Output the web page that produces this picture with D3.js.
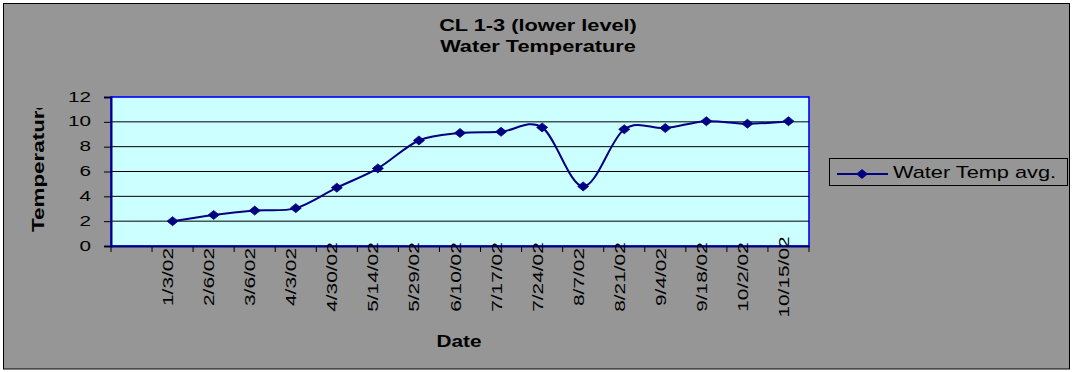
<!DOCTYPE html>
<html><head><meta charset="utf-8">
<script src="https://cdn.jsdelivr.net/npm/d3@7"></script>
<style>
html,body{margin:0;padding:0;background:#fff}
svg{display:block}
text{font-family:"Liberation Sans",Arial,Helvetica,sans-serif}
</style>
</head><body>
<svg id="chart" width="1074" height="372"></svg>
<script>
// ---- data ----
const titleLines = ["CL 1-3 (lower level)", "Water Temperature"];
const yTitle = "Temperature";
const xTitle = "Date";
const seriesName = "Water Temp avg.";
const dates = ["1/3/02","2/6/02","3/6/02","4/3/02","4/30/02","5/14/02","5/29/02","6/10/02",
               "7/17/02","7/24/02","8/7/02","8/21/02","9/4/02","9/18/02","10/2/02","10/15/02"];
const waterTemp = [2.0, 2.5, 2.85, 3.05, 4.7, 6.25, 8.5, 9.1, 9.2, 9.55, 4.8, 9.4, 9.5, 10.05, 9.85, 10.05];
const yTicks = [0, 2, 4, 6, 8, 10, 12];

// ---- layout ----
const svg = d3.select("#chart");
const plot = {left: 111, right: 809, top: 97, bottom: 246};
const navy = "#000080";

// Category axis has a leading empty slot before the first date
const slots = [" "].concat(dates);
const x = d3.scaleBand().domain(slots).range([plot.left, plot.right]).padding(0);
const cx = d => x(d) + x.bandwidth() / 2;
const y = d3.scaleLinear().domain([0, 12]).range([plot.bottom, plot.top]);

// Text helper: wide, stretched Excel-style lettering
function label(parent, px, py, rot, str, o) {
  const g = parent.append("g").attr("transform", `translate(${px},${py}) rotate(${rot})`);
  g.append("text")
    .attr("transform", `scale(${o.sx},1)`)
    .attr("text-anchor", o.anchor || "middle")
    .attr("font-size", o.size)
    .attr("font-weight", o.weight || "normal")
    .attr("fill", "#000")
    .text(str);
  return g;
}

// chart background
svg.append("rect").attr("x", 3.5).attr("y", 3.5).attr("width", 1066).attr("height", 365.5)
  .attr("fill", "#969696").attr("stroke", "#000").attr("stroke-width", 1);

// title
titleLines.forEach((t, i) => label(svg, 538, 31 + i * 21, 0, t, {size: 16, weight: "bold", sx: 1.36}));

// plot area
svg.append("rect").attr("x", plot.left).attr("y", plot.top)
  .attr("width", plot.right - plot.left).attr("height", plot.bottom - plot.top)
  .attr("fill", "#CCFFFF").attr("stroke", "#0000FF").attr("stroke-width", 1.6);

// gridlines
svg.append("g").selectAll("line").data(yTicks.filter(v => v > 0 && v < 12)).join("line")
  .attr("x1", plot.left).attr("x2", plot.right)
  .attr("y1", d => y(d)).attr("y2", d => y(d))
  .attr("stroke", "#000").attr("stroke-width", 1);

// y axis
const yAxis = svg.append("g").attr("transform", `translate(${plot.left},0)`)
  .call(d3.axisLeft(y).tickValues(yTicks).tickSize(7).tickFormat(""));
yAxis.select(".domain").attr("stroke", navy).attr("stroke-width", 2);
yAxis.selectAll(".tick line").attr("stroke", "#000");
yTicks.forEach(v => label(svg, 91, y(v) + 4.5, 0, String(v), {size: 15, anchor: "end", sx: 1.38}));

// x axis: ticks on slot boundaries
const xAxis = svg.append("g").attr("transform", `translate(0,${plot.bottom})`)
  .call(d3.axisBottom(x).tickSize(0).tickFormat(""));
xAxis.select(".domain").attr("stroke", navy).attr("stroke-width", 2);
const bounds = d3.range(slots.length + 1).map(i => plot.left + i * x.bandwidth());
xAxis.append("g").selectAll("line").data(bounds).join("line")
  .attr("x1", d => d).attr("x2", d => d).attr("y1", 0).attr("y2", 6)
  .attr("stroke", "#000").attr("stroke-width", 1);
dates.forEach(d => label(svg, cx(d) + 0.5, 277, -90, d, {size: 15, sx: 1.39}));

// axis titles
svg.append("clipPath").attr("id", "ytclip").append("rect")
  .attr("x", 0).attr("y", 108).attr("width", 110).attr("height", 260);
const yt = svg.append("g").attr("clip-path", "url(#ytclip)");
label(yt, 43.5, 165, -90, yTitle, {size: 16, weight: "bold", sx: 1.4});
label(svg, 459, 347, 0, xTitle, {size: 16, weight: "bold", sx: 1.3});

// series
const pts = dates.map((d, i) => [cx(d), y(waterTemp[i])]);
const line = d3.line().curve(d3.curveCardinal.tension(0));
svg.append("path").attr("d", line(pts)).attr("fill", "none")
  .attr("stroke", navy).attr("stroke-width", 2);
const diamond = "M-5.5,0L0,-4.5L5.5,0L0,4.5Z";
svg.append("g").selectAll("path").data(pts).join("path")
  .attr("d", diamond).attr("transform", p => `translate(${p[0]},${p[1]})`)
  .attr("fill", navy).attr("stroke", navy).attr("stroke-width", 0.8);

// legend
const lg = svg.append("g");
lg.append("rect").attr("x", 829.5).attr("y", 158.5).attr("width", 238).attr("height", 27)
  .attr("fill", "none").attr("stroke", "#000").attr("stroke-width", 1);
lg.append("line").attr("x1", 837).attr("x2", 888).attr("y1", 174).attr("y2", 174)
  .attr("stroke", navy).attr("stroke-width", 2);
lg.append("path").attr("d", diamond).attr("transform", "translate(862,174)")
  .attr("fill", navy).attr("stroke", navy).attr("stroke-width", 0.8);
label(lg, 893, 178, 0, seriesName, {size: 16, anchor: "start", sx: 1.36});
</script>
</body></html>
